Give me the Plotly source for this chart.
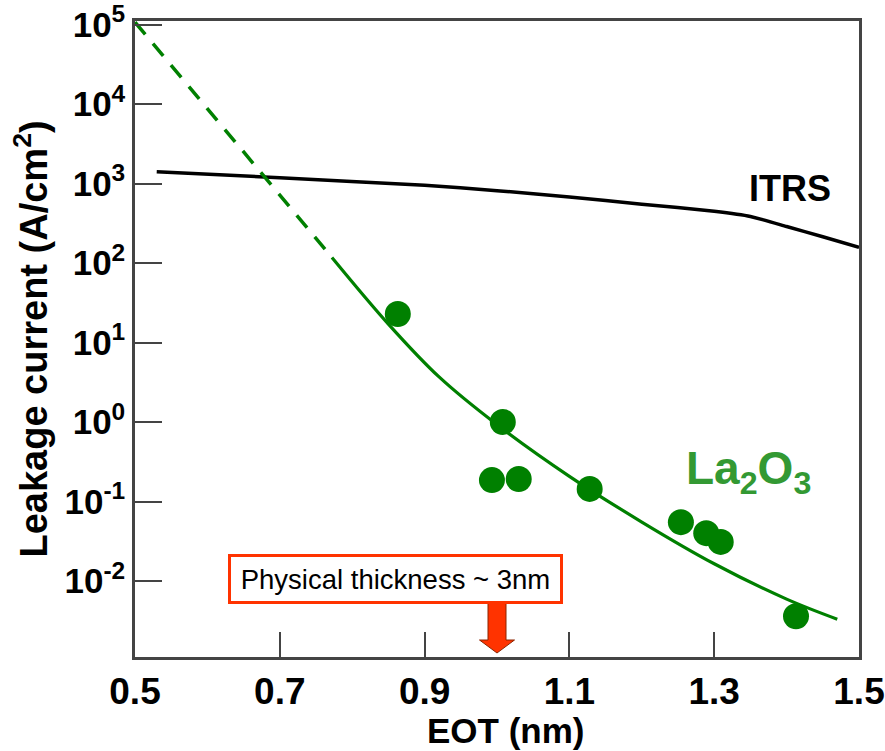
import plotly.graph_objects as go

# Measured La2O3 gate leakage (EOT in nm, current density in A/cm^2)
eot_meas = [0.863, 1.008, 0.993, 1.030, 1.128, 1.254, 1.289, 1.309, 1.413]
jg_meas = [22.8, 1.0, 0.186, 0.192, 0.144, 0.055, 0.040, 0.031, 0.0036]

# Fitted trend: extrapolated (dashed) and fitted range (solid)
eot_extrap = [0.50, 0.682, 0.772]
jg_extrap = [1.07e5, 1140, 117.5]
eot_fit = [0.772, 0.85, 0.92, 1.00, 1.10, 1.20, 1.30, 1.40, 1.47]
jg_fit = [117.5, 17.06, 3.69, 0.927, 0.2075, 0.0552, 0.01648, 0.00592, 0.00331]

# ITRS requirement
eot_itrs = [0.53, 0.70, 0.90, 1.00, 1.10, 1.20, 1.30, 1.35, 1.40, 1.45, 1.50]
jg_itrs = [1410, 1180, 950, 813, 676, 550, 447, 385, 288, 214, 157]

# Axis ticks
x_ticks = [0.5, 0.7, 0.9, 1.1, 1.3, 1.5]
y_exps = [-3, -2, -1, 0, 1, 2, 3, 4, 5]

FONT = "Liberation Sans, Arial, sans-serif"
GREEN = "#008000"

fig = go.Figure()

fig.add_trace(go.Scatter(
    x=eot_itrs, y=jg_itrs, mode="lines",
    line=dict(color="black", width=3.5, shape="spline", smoothing=0.5),
    hoverinfo="skip", showlegend=False))

fig.add_trace(go.Scatter(
    x=eot_extrap, y=jg_extrap, mode="lines",
    line=dict(color=GREEN, width=3.5, dash="16px,12px"), showlegend=False))

fig.add_trace(go.Scatter(
    x=eot_fit, y=jg_fit, mode="lines",
    line=dict(color=GREEN, width=3.2, shape="spline", smoothing=1.0), showlegend=False))

fig.add_trace(go.Scatter(
    x=eot_meas, y=jg_meas, mode="markers",
    marker=dict(color=GREEN, size=26, line=dict(width=0)), showlegend=False))

y_lo, y_hi = -2.956, 5.044

fig.update_xaxes(
    range=[0.5, 1.5], tickvals=x_ticks, ticktext=[f"{v:.1f}" for v in x_ticks],
    ticks="inside", ticklen=25, tickwidth=1.5, tickcolor="#444",
    showline=True, linecolor="#444", linewidth=2.5, mirror=True,
    showgrid=False, zeroline=False, automargin=False,
    tickfont=dict(family=FONT, size=37, color="black", weight="bold"),
)

fig.update_yaxes(
    type="log", range=[y_lo, y_hi],
    tickvals=[10.0 ** e for e in y_exps if e > y_lo],
    ticktext=[f"10<sup>{e}</sup>" for e in y_exps if e > y_lo],
    ticks="inside", ticklen=27, tickwidth=1.5, tickcolor="#444",
    showline=True, linecolor="#444", linewidth=2.5, mirror=True,
    showgrid=False, zeroline=False, automargin=False,
    tickfont=dict(family=FONT, size=35, color="black", weight="bold"),
    title=dict(text="<b>Leakage current (A/cm<sup>2</sup>)</b>",
               font=dict(family=FONT, size=38, color="black"), standoff=6),
)

annotations = [
    # x-axis title, set slightly right of the plot centre
    dict(x=0.5124, xref="paper", y=0, yref="paper", yanchor="middle", yshift=-73,
         text="<b>EOT (nm)</b>", showarrow=False,
         font=dict(family=FONT, size=35, color="black")),
    # lowest decade label sits just below the frame
    dict(x=0.0, xref="paper", xanchor="right", xshift=-8,
         y=-3, yref="y", yanchor="middle",
         text="<b>10<sup>-3</sup></b>", showarrow=False,
         font=dict(family=FONT, size=35, color="black")),
    dict(x=1.405, xref="x", y=2.94, yref="y", text="<b>ITRS</b>", showarrow=False,
         font=dict(family=FONT, size=36, color="black")),
    dict(x=1.348, xref="x", y=-0.62, yref="y",
         text="<b>La<sub>2</sub>O<sub>3</sub></b>", showarrow=False,
         font=dict(family=FONT, size=46, color="#339933")),
    dict(x=0.86, xref="x", y=0.1234, yref="paper", yanchor="middle",
         text="Physical thickness ~ 3nm", showarrow=False,
         font=dict(family=FONT, size=27.5, color="black"),
         bgcolor="white", bordercolor="#ff3300", borderwidth=3, borderpad=2,
         width=325, height=40),
]

shapes = [
    # block arrow pointing to EOT = 1.0 nm
    dict(type="path", xref="x", xsizemode="pixel", xanchor=1.0,
         yref="paper", ysizemode="pixel", yanchor=0,
         path="M -9,54 L 9,54 L 9,17 L 17.5,17 L 0,4 L -17.5,17 L -9,17 Z",
         fillcolor="#ff3300", line=dict(color="#8b2500", width=1)),
]

fig.update_layout(
    width=885, height=751,
    margin=dict(l=135, r=26, t=21, b=94),
    plot_bgcolor="white", paper_bgcolor="white",
    annotations=annotations, shapes=shapes,
    showlegend=False,
)

fig.write_html("out.html")
